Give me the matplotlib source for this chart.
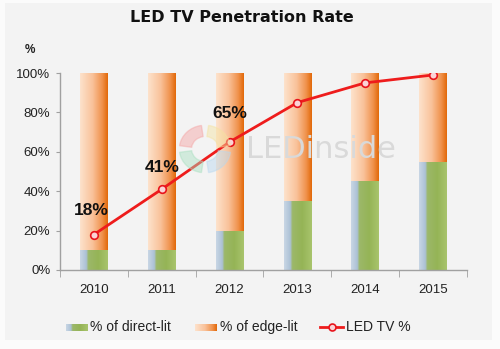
import numpy as np
import matplotlib
matplotlib.use("Agg")
import matplotlib.pyplot as plt
from matplotlib.colors import LinearSegmentedColormap
from matplotlib.lines import Line2D
from matplotlib.patches import Rectangle, Wedge

years = ["2010", "2011", "2012", "2013", "2014", "2015"]
direct_lit = [10, 10, 20, 35, 45, 55]
edge_lit = [90, 90, 80, 65, 55, 45]
led_tv = [18, 41, 65, 85, 95, 99]
labelled = {0: "18%", 1: "41%", 2: "65%"}

W, H = 500, 349
fig = plt.figure(figsize=(W / 100, H / 100), dpi=100, facecolor="#fbfbfb")
fig.add_artist(Rectangle((5 / W, 9 / H), 487 / W, 337 / H, transform=fig.transFigure,
                         facecolor="#f3f3f3", edgecolor="none", zorder=0))

ax = fig.add_axes([60 / W, 79 / H, 407 / W, 197 / H])
ax.set_facecolor("none")

orange = LinearSegmentedColormap.from_list(
    "edge", [(0, "#fde2cc"), (0.45, "#f9c29a"), (0.8, "#f0924c"), (1, "#e2690a")])
green = LinearSegmentedColormap.from_list(
    "direct", [(0, "#c8d6e4"), (0.22, "#acc1d6"), (0.3, "#9cb86a"),
               (0.65, "#95b456"), (1, "#a8c46c")])
grad = np.linspace(0, 1, 64)[np.newaxis, :]

x = np.arange(len(years))
bw = 0.41
low = ax.bar(x, direct_lit, bw, color="none", zorder=2)
high = ax.bar(x, edge_lit, bw, bottom=direct_lit, color="none", zorder=2)
for bars, cmap in ((low, green), (high, orange)):
    for r in bars:
        x0, y0 = r.get_x(), r.get_y()
        ax.imshow(grad, cmap=cmap, aspect="auto", zorder=2,
                  extent=[x0, x0 + r.get_width(), y0, y0 + r.get_height()])

ax.plot(x, led_tv, color="#ee1c1c", lw=2, zorder=4, marker="o", ms=5.5,
        mfc="#fbd3d6", mec="#e8141c", mew=1.2)

offsets = {0: (-3, 24), 1: (0, 22), 2: (0, 28)}
for i, txt in labelled.items():
    ax.annotate(txt, (x[i], led_tv[i]), xytext=offsets[i], textcoords="offset pixels",
                ha="center", va="center", fontsize=12.5, fontweight="bold",
                family="Liberation Sans", color="#111111", zorder=5)

ax.set_xlim(-0.5, len(years) - 0.5)
ax.set_ylim(0, 100)
ax.set_yticks(range(0, 101, 20))
ax.set_yticklabels([f"{v}%" for v in range(0, 101, 20)])
ax.set_xticks(x)
ax.set_xticklabels(years)
ax.set_xticks(np.arange(-0.5, len(years)), minor=True)
ax.tick_params(axis="x", which="major", length=0, pad=10)
ax.tick_params(axis="x", which="minor", length=5, color="#a0a0a0", direction="out")
ax.tick_params(axis="y", length=3, color="#a0a0a0", pad=4)
for lab in ax.get_xticklabels() + ax.get_yticklabels():
    lab.set_family("Liberation Sans")
    lab.set_fontsize(9.5)
    lab.set_color("#222222")
for s in ("top", "right"):
    ax.spines[s].set_visible(False)
for s in ("left", "bottom"):
    ax.spines[s].set_color("#a0a0a0")
    ax.spines[s].set_linewidth(1)

# faint LEDinside watermark
wm = fig.add_axes([178 / W, (349 - 174) / H, 54 / W, 50 / H])
wm.set_xlim(-1, 1)
wm.set_ylim(-1, 1)
wm.axis("off")
for (t1, t2), c in zip([(90, 180), (180, 270), (270, 360), (0, 90)],
                       ["#f4a3a3", "#a8e0c0", "#b8d8ef", "#f5e3a0"]):
    wm.add_patch(Wedge((0, 0), 0.95, t1 + 8, t2 - 8, width=0.45, color=c, alpha=0.45))
fig.text(246 / W, 1 - 150 / H, "LEDinside", fontsize=22, color="#d9d9d9",
         va="center", family="DejaVu Sans")

fig.text(242 / W, 1 - 17 / H, "LED TV Penetration Rate", ha="center", va="center",
         fontsize=11.5, fontweight="bold", color="#111111")
fig.text(30 / W, 1 - 50 / H, "%", ha="center", va="center", fontsize=8.5,
         fontweight="bold", color="#222222", family="Liberation Sans")

# legend
ly = 1 - 327 / H
for px, cmap in ((66, green), (195, orange)):
    la = fig.add_axes([px / W, ly - 3.5 / H, 22 / W, 7 / H])
    la.imshow(grad, cmap=cmap, aspect="auto")
    la.axis("off")
fig.add_artist(Line2D([320 / W, 343 / W], [ly, ly], transform=fig.transFigure,
                      color="#ee1c1c", lw=2))
fig.add_artist(Line2D([331.5 / W], [ly], transform=fig.transFigure, marker="o",
                      ms=5, mfc="#fbd3d6", mec="#e8141c", mew=1.2))
for px, txt in ((90, "% of direct-lit"), (220, "% of edge-lit"), (346, "LED TV %")):
    fig.text(px / W, ly, txt, va="center", fontsize=10, color="#222222",
             family="Liberation Sans")

fig.savefig("out.png", dpi=100, facecolor=fig.get_facecolor())
